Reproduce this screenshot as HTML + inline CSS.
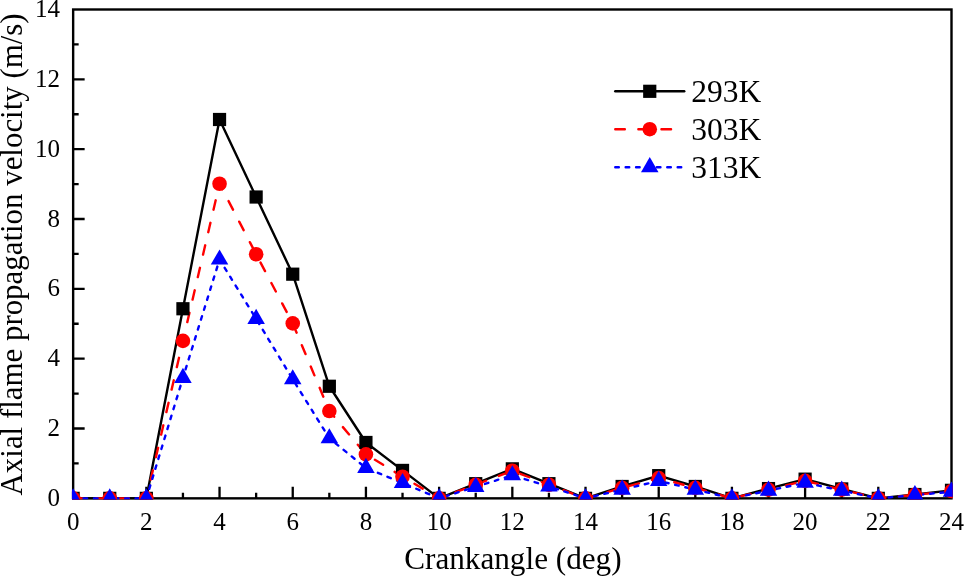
<!DOCTYPE html><html><head><meta charset="utf-8"><style>html,body{margin:0;padding:0;background:#fff;}svg{display:block;will-change:transform;}text{font-family:"Liberation Serif",serif;fill:#000;}</style></head><body>
<svg width="964" height="576" viewBox="0 0 964 576">
<rect width="964" height="576" fill="#fff"/>
<defs><clipPath id="c"><rect x="71.95" y="8.30" width="880.75" height="491.25"/></clipPath></defs>
<path d="M109.75 498.35V492.85M146.35 498.35V486.85M182.94 498.35V492.85M219.54 498.35V486.85M256.14 498.35V492.85M292.74 498.35V486.85M329.34 498.35V492.85M365.93 498.35V486.85M402.53 498.35V492.85M439.13 498.35V486.85M475.73 498.35V492.85M512.33 498.35V486.85M548.92 498.35V492.85M585.52 498.35V486.85M622.12 498.35V492.85M658.72 498.35V486.85M695.31 498.35V492.85M731.91 498.35V486.85M768.51 498.35V492.85M805.11 498.35V486.85M841.71 498.35V492.85M878.30 498.35V486.85M914.90 498.35V492.85M73.15 463.43H78.65M73.15 428.51H84.65M73.15 393.60H78.65M73.15 358.68H84.65M73.15 323.76H78.65M73.15 288.84H84.65M73.15 253.93H78.65M73.15 219.01H84.65M73.15 184.09H78.65M73.15 149.17H84.65M73.15 114.25H78.65M73.15 79.34H84.65M73.15 44.42H78.65" stroke="#000" stroke-width="2.3" fill="none"/>
<rect x="73.15" y="9.50" width="878.35" height="488.85" fill="none" stroke="#000" stroke-width="2.4"/>
<g clip-path="url(#c)">
<polyline points="73.15,498.35 109.75,498.35 146.35,498.35 182.94,308.75 219.54,119.49 256.14,197.01 292.74,274.18 329.34,386.26 365.93,442.48 402.53,470.42 439.13,498.35 475.73,483.68 512.33,468.84 548.92,483.68 585.52,498.35 622.12,486.48 658.72,475.65 695.31,486.48 731.91,498.35 768.51,488.57 805.11,479.15 841.71,488.92 878.30,498.35 914.90,494.51 951.50,490.32" fill="none" stroke="#000" stroke-width="2.4" stroke-linejoin="round" stroke-linecap="round"/>
<polyline points="73.15,498.35 109.75,498.35 146.35,498.35 182.94,340.87 219.54,183.74 256.14,254.27 292.74,323.41 329.34,411.06 365.93,454.35 402.53,476.70 439.13,498.35 475.73,484.73 512.33,470.76 548.92,484.73 585.52,498.35 622.12,487.87 658.72,478.10 695.31,487.87 731.91,498.35 768.51,489.62 805.11,480.89 841.71,489.62 878.30,498.35 914.90,494.86 951.50,491.02" fill="none" stroke="#f00" stroke-width="2.4" stroke-linejoin="round" stroke-linecap="round" stroke-dasharray="9.6 13.5"/>
<polyline points="73.15,498.35 109.75,498.35 146.35,498.35 182.94,377.88 219.54,259.51 256.14,318.87 292.74,379.28 329.34,438.29 365.93,467.97 402.53,482.99 439.13,498.35 475.73,486.83 512.33,475.30 548.92,486.48 585.52,498.35 622.12,489.62 658.72,480.89 695.31,489.62 731.91,498.35 768.51,490.67 805.11,482.81 841.71,490.67 878.30,498.35 914.90,495.21 951.50,491.72" fill="none" stroke="#00f" stroke-width="2.4" stroke-linejoin="round" stroke-linecap="round" stroke-dasharray="3.6 6.8"/>
<rect x="66.55" y="491.75" width="13.20" height="13.20" fill="#000"/>
<rect x="103.15" y="491.75" width="13.20" height="13.20" fill="#000"/>
<rect x="139.75" y="491.75" width="13.20" height="13.20" fill="#000"/>
<rect x="176.34" y="302.15" width="13.20" height="13.20" fill="#000"/>
<rect x="212.94" y="112.89" width="13.20" height="13.20" fill="#000"/>
<rect x="249.54" y="190.41" width="13.20" height="13.20" fill="#000"/>
<rect x="286.14" y="267.58" width="13.20" height="13.20" fill="#000"/>
<rect x="322.74" y="379.66" width="13.20" height="13.20" fill="#000"/>
<rect x="359.33" y="435.88" width="13.20" height="13.20" fill="#000"/>
<rect x="395.93" y="463.82" width="13.20" height="13.20" fill="#000"/>
<rect x="432.53" y="491.75" width="13.20" height="13.20" fill="#000"/>
<rect x="469.13" y="477.08" width="13.20" height="13.20" fill="#000"/>
<rect x="505.73" y="462.24" width="13.20" height="13.20" fill="#000"/>
<rect x="542.32" y="477.08" width="13.20" height="13.20" fill="#000"/>
<rect x="578.92" y="491.75" width="13.20" height="13.20" fill="#000"/>
<rect x="615.52" y="479.88" width="13.20" height="13.20" fill="#000"/>
<rect x="652.12" y="469.05" width="13.20" height="13.20" fill="#000"/>
<rect x="688.71" y="479.88" width="13.20" height="13.20" fill="#000"/>
<rect x="725.31" y="491.75" width="13.20" height="13.20" fill="#000"/>
<rect x="761.91" y="481.97" width="13.20" height="13.20" fill="#000"/>
<rect x="798.51" y="472.55" width="13.20" height="13.20" fill="#000"/>
<rect x="835.11" y="482.32" width="13.20" height="13.20" fill="#000"/>
<rect x="871.70" y="491.75" width="13.20" height="13.20" fill="#000"/>
<rect x="908.30" y="487.91" width="13.20" height="13.20" fill="#000"/>
<rect x="944.90" y="483.72" width="13.20" height="13.20" fill="#000"/>
<circle cx="73.15" cy="498.35" r="7.30" fill="#f00"/>
<circle cx="109.75" cy="498.35" r="7.30" fill="#f00"/>
<circle cx="146.35" cy="498.35" r="7.30" fill="#f00"/>
<circle cx="182.94" cy="340.87" r="7.30" fill="#f00"/>
<circle cx="219.54" cy="183.74" r="7.30" fill="#f00"/>
<circle cx="256.14" cy="254.27" r="7.30" fill="#f00"/>
<circle cx="292.74" cy="323.41" r="7.30" fill="#f00"/>
<circle cx="329.34" cy="411.06" r="7.30" fill="#f00"/>
<circle cx="365.93" cy="454.35" r="7.30" fill="#f00"/>
<circle cx="402.53" cy="476.70" r="7.30" fill="#f00"/>
<circle cx="439.13" cy="498.35" r="7.30" fill="#f00"/>
<circle cx="475.73" cy="484.73" r="7.30" fill="#f00"/>
<circle cx="512.33" cy="470.76" r="7.30" fill="#f00"/>
<circle cx="548.92" cy="484.73" r="7.30" fill="#f00"/>
<circle cx="585.52" cy="498.35" r="7.30" fill="#f00"/>
<circle cx="622.12" cy="487.87" r="7.30" fill="#f00"/>
<circle cx="658.72" cy="478.10" r="7.30" fill="#f00"/>
<circle cx="695.31" cy="487.87" r="7.30" fill="#f00"/>
<circle cx="731.91" cy="498.35" r="7.30" fill="#f00"/>
<circle cx="768.51" cy="489.62" r="7.30" fill="#f00"/>
<circle cx="805.11" cy="480.89" r="7.30" fill="#f00"/>
<circle cx="841.71" cy="489.62" r="7.30" fill="#f00"/>
<circle cx="878.30" cy="498.35" r="7.30" fill="#f00"/>
<circle cx="914.90" cy="494.86" r="7.30" fill="#f00"/>
<circle cx="951.50" cy="491.02" r="7.30" fill="#f00"/>
<polygon points="73.15,488.25 81.90,503.40 64.40,503.40" fill="#00f"/>
<polygon points="109.75,488.25 118.49,503.40 101.00,503.40" fill="#00f"/>
<polygon points="146.35,488.25 155.09,503.40 137.60,503.40" fill="#00f"/>
<polygon points="182.94,367.78 191.69,382.93 174.20,382.93" fill="#00f"/>
<polygon points="219.54,249.41 228.29,264.56 210.79,264.56" fill="#00f"/>
<polygon points="256.14,308.77 264.89,323.92 247.39,323.92" fill="#00f"/>
<polygon points="292.74,369.18 301.48,384.33 283.99,384.33" fill="#00f"/>
<polygon points="329.34,428.19 338.08,443.34 320.59,443.34" fill="#00f"/>
<polygon points="365.93,457.87 374.68,473.02 357.19,473.02" fill="#00f"/>
<polygon points="402.53,472.89 411.28,488.04 393.78,488.04" fill="#00f"/>
<polygon points="439.13,488.25 447.88,503.40 430.38,503.40" fill="#00f"/>
<polygon points="475.73,476.73 484.47,491.88 466.98,491.88" fill="#00f"/>
<polygon points="512.33,465.20 521.07,480.35 503.58,480.35" fill="#00f"/>
<polygon points="548.92,476.38 557.67,491.53 540.18,491.53" fill="#00f"/>
<polygon points="585.52,488.25 594.27,503.40 576.77,503.40" fill="#00f"/>
<polygon points="622.12,479.52 630.87,494.67 613.37,494.67" fill="#00f"/>
<polygon points="658.72,470.79 667.46,485.94 649.97,485.94" fill="#00f"/>
<polygon points="695.31,479.52 704.06,494.67 686.57,494.67" fill="#00f"/>
<polygon points="731.91,488.25 740.66,503.40 723.17,503.40" fill="#00f"/>
<polygon points="768.51,480.57 777.26,495.72 759.76,495.72" fill="#00f"/>
<polygon points="805.11,472.71 813.86,487.86 796.36,487.86" fill="#00f"/>
<polygon points="841.71,480.57 850.45,495.72 832.96,495.72" fill="#00f"/>
<polygon points="878.30,488.25 887.05,503.40 869.56,503.40" fill="#00f"/>
<polygon points="914.90,485.11 923.65,500.26 906.16,500.26" fill="#00f"/>
<polygon points="951.50,481.62 960.25,496.77 942.75,496.77" fill="#00f"/>
</g>
<text x="60.00" y="505.95" font-size="25" text-anchor="end">0</text>
<text x="60.00" y="436.11" font-size="25" text-anchor="end">2</text>
<text x="60.00" y="366.28" font-size="25" text-anchor="end">4</text>
<text x="60.00" y="296.44" font-size="25" text-anchor="end">6</text>
<text x="60.00" y="226.61" font-size="25" text-anchor="end">8</text>
<text x="60.00" y="156.77" font-size="25" text-anchor="end">10</text>
<text x="60.00" y="86.94" font-size="25" text-anchor="end">12</text>
<text x="60.00" y="17.10" font-size="25" text-anchor="end">14</text>
<text x="73.15" y="530.40" font-size="25" text-anchor="middle">0</text>
<text x="146.35" y="530.40" font-size="25" text-anchor="middle">2</text>
<text x="219.54" y="530.40" font-size="25" text-anchor="middle">4</text>
<text x="292.74" y="530.40" font-size="25" text-anchor="middle">6</text>
<text x="365.93" y="530.40" font-size="25" text-anchor="middle">8</text>
<text x="439.13" y="530.40" font-size="25" text-anchor="middle">10</text>
<text x="512.33" y="530.40" font-size="25" text-anchor="middle">12</text>
<text x="585.52" y="530.40" font-size="25" text-anchor="middle">14</text>
<text x="658.72" y="530.40" font-size="25" text-anchor="middle">16</text>
<text x="731.91" y="530.40" font-size="25" text-anchor="middle">18</text>
<text x="805.11" y="530.40" font-size="25" text-anchor="middle">20</text>
<text x="878.30" y="530.40" font-size="25" text-anchor="middle">22</text>
<text x="951.50" y="530.40" font-size="25" text-anchor="middle">24</text>
<text x="512.90" y="568.60" font-size="31.2" text-anchor="middle">Crankangle (deg)</text>
<text transform="translate(21.60,254.40) rotate(-90)" font-size="30.9" text-anchor="middle">Axial flame propagation velocity (m/s)</text>
<path d="M615.25 91.30H684.25" stroke="#000" stroke-width="2.4" stroke-linecap="round"/>
<rect x="643.15" y="84.70" width="13.20" height="13.20" fill="#000"/>
<path d="M615.25 129.20H684.25" stroke="#f00" stroke-width="2.4" stroke-linecap="round" stroke-dasharray="9.6 13.5"/>
<circle cx="649.75" cy="129.20" r="7.30" fill="#f00"/>
<path d="M615.25 167.20H684.25" stroke="#00f" stroke-width="2.4" stroke-linecap="round" stroke-dasharray="3.6 6.8"/>
<polygon points="649.75,157.10 658.50,172.25 641.00,172.25" fill="#00f"/>
<text x="691.30" y="102.20" font-size="31.5">293K</text>
<text x="691.30" y="140.10" font-size="31.5">303K</text>
<text x="691.30" y="178.10" font-size="31.5">313K</text>
</svg></body></html>
